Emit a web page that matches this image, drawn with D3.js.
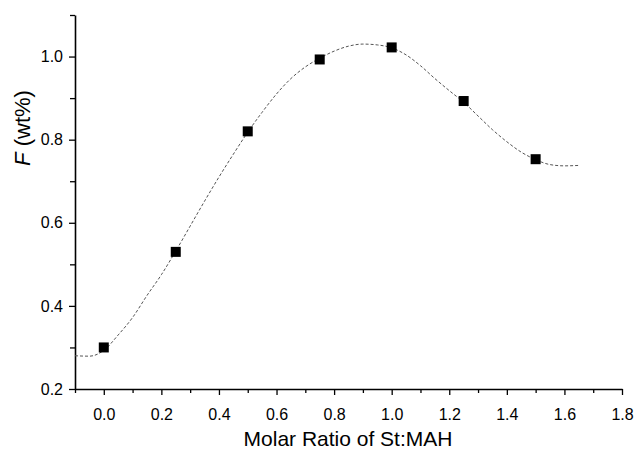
<!DOCTYPE html>
<html>
<head>
<meta charset="utf-8">
<script src="https://cdn.jsdelivr.net/npm/d3@7"></script>
<style>
  body { margin: 0; background: #fff; }
  text { font-family: "Liberation Sans", Arial, sans-serif; fill: #000; }
</style>
</head>
<body>
<svg id="plot"></svg>
<script>
// measured points
var ratios = [0.0, 0.25, 0.5, 0.75, 1.0, 1.25, 1.5];
var fValues = [0.30, 0.53, 0.82, 0.993, 1.022, 0.893, 0.753];

// smooth fit curve
var fitX = [-0.1, -0.05, 0.0, 0.05, 0.1, 0.15, 0.2, 0.25, 0.3, 0.35, 0.4, 0.45, 0.5, 0.55, 0.6, 0.65, 0.7, 0.75,
            0.8, 0.85, 0.9, 0.95, 1.0, 1.05, 1.1, 1.15, 1.2, 1.25, 1.3, 1.35, 1.4, 1.45, 1.5, 1.55, 1.6, 1.65];
var fitY = [0.280, 0.279, 0.293, 0.330, 0.372, 0.425, 0.475, 0.532, 0.592, 0.652, 0.710, 0.765, 0.818, 0.866, 0.910, 0.947, 0.975, 0.996,
            1.013, 1.025, 1.030, 1.028, 1.021, 1.004, 0.978, 0.947, 0.918, 0.890, 0.857, 0.824, 0.795, 0.770, 0.752, 0.740, 0.737, 0.738];

var xTicks = [0.0, 0.2, 0.4, 0.6, 0.8, 1.0, 1.2, 1.4, 1.6, 1.8];
var yTicks = [0.2, 0.4, 0.6, 0.8, 1.0];

var width = 637, height = 451;

var x = d3.scaleLinear().domain([-0.1, 1.8]).range([75, 622]);
var y = d3.scaleLinear().domain([0.2, 1.1]).range([389, 15]);

var svg = d3.select("#plot").attr("width", width).attr("height", height);

// minor ticks
var xMinor = d3.range(-0.1, 1.75, 0.2);
var yMinor = d3.range(0.3, 1.15, 0.2);

svg.append("g")
    .attr("transform", "translate(0,389)")
    .call(d3.axisBottom(x).tickValues(xMinor).tickSize(4).tickFormat(""))
    .call(function(g) { g.select(".domain").remove(); })
    .selectAll("line").attr("stroke-width", 1.3);

svg.append("g")
    .attr("transform", "translate(75,0)")
    .call(d3.axisLeft(y).tickValues(yMinor).tickSize(5).tickFormat(""))
    .call(function(g) { g.select(".domain").remove(); })
    .selectAll("line").attr("stroke-width", 1.3);

var xAxis = svg.append("g")
    .attr("transform", "translate(0,389)")
    .call(d3.axisBottom(x).tickValues(xTicks).tickSize(6).tickSizeOuter(0).tickPadding(14)
        .tickFormat(d3.format(".1f")));

var yAxis = svg.append("g")
    .attr("transform", "translate(75,0)")
    .call(d3.axisLeft(y).tickValues(yTicks).tickSize(6).tickSizeOuter(0).tickPadding(6)
        .tickFormat(d3.format(".1f")));

[xAxis, yAxis].forEach(function(g) {
    g.select(".domain").attr("stroke-width", 1.6);
    g.selectAll("line").attr("stroke-width", 1.3);
    g.selectAll("text").attr("font-size", 16)
        .style("font-family", "'Liberation Sans', Arial, sans-serif");
});

// fit line
var line = d3.line()
    .x(function(d, i) { return x(fitX[i]); })
    .y(function(d) { return y(d); })
    .curve(d3.curveMonotoneX);

svg.append("path")
    .datum(fitY)
    .attr("fill", "none")
    .attr("stroke", "#555")
    .attr("stroke-width", 1)
    .attr("stroke-dasharray", "3,2")
    .attr("d", line);

// markers
var s = 10;
svg.selectAll("rect.pt")
    .data(ratios)
    .enter().append("rect")
    .attr("class", "pt")
    .attr("x", function(d) { return x(d) - s / 2; })
    .attr("y", function(d, i) { return y(fValues[i]) - s / 2; })
    .attr("width", s)
    .attr("height", s)
    .attr("fill", "#000");

// axis titles
svg.append("text")
    .attr("x", 348)
    .attr("y", 446)
    .attr("text-anchor", "middle")
    .attr("font-size", 21)
    .text("Molar Ratio of St:MAH");

var yl = svg.append("text")
    .attr("transform", "translate(30,128) rotate(-90)")
    .attr("text-anchor", "middle")
    .attr("font-size", 22);
yl.append("tspan").attr("font-style", "italic").text("F");
yl.append("tspan").text(" (wt%)");
</script>
</body>
</html>
